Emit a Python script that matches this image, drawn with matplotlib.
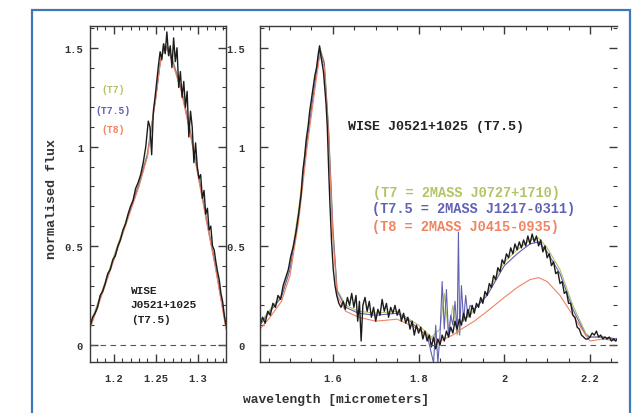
import matplotlib
matplotlib.use("Agg")
import matplotlib.pyplot as plt
from matplotlib.patches import Rectangle
from matplotlib.ticker import FixedLocator, FixedFormatter, MultipleLocator

plt.rcParams["font.family"] = ["Liberation Mono", "DejaVu Sans Mono"]
plt.rcParams["font.weight"] = "bold"

# J band (left panel): WISE J0521+1025
j_wave = [1.172, 1.175, 1.178, 1.181, 1.184, 1.187, 1.190, 1.193, 1.196, 1.199,
          1.202, 1.205, 1.208, 1.211, 1.214, 1.217, 1.220, 1.223, 1.226, 1.229,
          1.232, 1.235, 1.238, 1.241, 1.243, 1.245, 1.247, 1.249, 1.251, 1.253,
          1.255, 1.257, 1.259, 1.261, 1.263, 1.265, 1.267, 1.269, 1.271, 1.273,
          1.275, 1.277, 1.279, 1.281, 1.283, 1.285, 1.287, 1.289, 1.291, 1.293,
          1.295, 1.297, 1.299, 1.301, 1.303, 1.305, 1.307, 1.309, 1.311, 1.313,
          1.315, 1.317, 1.319, 1.321, 1.323, 1.325, 1.327, 1.329, 1.331, 1.333]
j_flux = [0.09, 0.14, 0.16, 0.19, 0.25, 0.27, 0.31, 0.36, 0.38, 0.43,
          0.45, 0.50, 0.53, 0.58, 0.61, 0.66, 0.70, 0.73, 0.79, 0.82,
          0.86, 0.92, 1.00, 1.13, 1.10, 0.96, 1.18, 1.25, 1.33, 1.41,
          1.48, 1.44, 1.52, 1.47, 1.58, 1.46, 1.51, 1.40, 1.55, 1.43,
          1.50, 1.30, 1.38, 1.25, 1.33, 1.20, 1.28, 1.05, 1.18, 1.10,
          0.92, 1.02, 0.90, 0.84, 0.86, 0.74, 0.78, 0.66, 0.69, 0.58,
          0.60, 0.50, 0.48, 0.42, 0.37, 0.33, 0.26, 0.22, 0.15, 0.10]

j_tpl_wave = [1.172, 1.19, 1.21, 1.23, 1.24, 1.25, 1.255, 1.26, 1.265, 1.27,
              1.28, 1.29, 1.30, 1.31, 1.32, 1.333]
j_t7 = [0.10, 0.32, 0.57, 0.82, 0.97, 1.26, 1.43, 1.52, 1.50, 1.44,
        1.30, 1.10, 0.87, 0.64, 0.42, 0.10]
j_t75 = [0.09, 0.31, 0.56, 0.81, 0.96, 1.25, 1.42, 1.51, 1.49, 1.43,
         1.29, 1.09, 0.86, 0.63, 0.41, 0.09]
j_t8 = [0.08, 0.30, 0.55, 0.80, 0.95, 1.25, 1.42, 1.50, 1.48, 1.42,
        1.28, 1.08, 0.85, 0.62, 0.40, 0.08]

# H + K bands (right panel): WISE J0521+1025
hk_wave = [1.430, 1.436, 1.442, 1.448, 1.454, 1.460, 1.466, 1.472, 1.478, 1.484,
           1.490, 1.496, 1.502, 1.508, 1.514, 1.520, 1.526, 1.530, 1.534, 1.538,
           1.542, 1.546, 1.550, 1.554, 1.558, 1.562, 1.566, 1.569, 1.572, 1.575,
           1.578, 1.581, 1.584, 1.587, 1.590, 1.593, 1.597, 1.601, 1.605, 1.609,
           1.614, 1.619, 1.624, 1.629, 1.634, 1.639, 1.644, 1.649, 1.654, 1.658,
           1.662, 1.666, 1.670, 1.675, 1.680, 1.685, 1.690, 1.695, 1.700, 1.705,
           1.710, 1.715, 1.720, 1.725, 1.730, 1.735, 1.740, 1.745, 1.750, 1.755,
           1.760, 1.765, 1.770, 1.775, 1.780, 1.785, 1.790, 1.795, 1.800, 1.805,
           1.810, 1.815, 1.820, 1.825, 1.830, 1.835, 1.840, 1.845, 1.850, 1.855,
           1.860, 1.865, 1.870, 1.875, 1.880, 1.885, 1.890, 1.895, 1.900, 1.905,
           1.910, 1.915, 1.920, 1.925, 1.930, 1.935, 1.940, 1.945, 1.950, 1.955,
           1.960, 1.965, 1.970, 1.975, 1.980, 1.985, 1.990, 1.995, 2.000, 2.005,
           2.010, 2.015, 2.020, 2.025, 2.030, 2.035, 2.040, 2.045, 2.050, 2.055,
           2.060, 2.065, 2.070, 2.075, 2.080, 2.085, 2.090, 2.095, 2.100, 2.105,
           2.110, 2.115, 2.120, 2.125, 2.130, 2.135, 2.140, 2.145, 2.150, 2.155,
           2.160, 2.165, 2.170, 2.175, 2.180, 2.185, 2.190, 2.195, 2.200, 2.205,
           2.210, 2.215, 2.220, 2.225, 2.230, 2.235, 2.240, 2.245, 2.250, 2.255,
           2.260, 2.263]
hk_flux = [0.10, 0.14, 0.11, 0.17, 0.15, 0.21, 0.19, 0.25, 0.23, 0.30,
           0.34, 0.38, 0.45, 0.50, 0.57, 0.66, 0.76, 0.88, 0.95, 1.04,
           1.10, 1.18, 1.24, 1.30, 1.36, 1.40, 1.47, 1.51, 1.46, 1.42,
           1.38, 1.30, 1.22, 1.10, 0.90, 0.72, 0.52, 0.38, 0.30, 0.25,
           0.21, 0.19, 0.22, 0.18, 0.24, 0.20, 0.26, 0.19, 0.25, 0.12,
           0.22, 0.02, 0.20, 0.24, 0.17, 0.22, 0.14, 0.19, 0.12, 0.18,
           0.15, 0.23, 0.17, 0.21, 0.14, 0.19, 0.16, 0.20, 0.15, 0.18,
           0.12, 0.16, 0.11, 0.14, 0.08, 0.12, 0.05, 0.10, 0.06, 0.09,
           0.03, 0.07, 0.02, 0.05, -0.01, 0.04, -0.02, 0.03, 0.00, 0.05,
           0.02, 0.07, 0.04, 0.09, 0.06, 0.12, 0.08, 0.13, 0.10, 0.16,
           0.12, 0.18, 0.14, 0.20, 0.16, 0.21, 0.19, 0.24, 0.21, 0.27,
           0.25, 0.31, 0.29, 0.35, 0.33, 0.39, 0.37, 0.43, 0.41, 0.46,
           0.44, 0.49, 0.46, 0.51, 0.48, 0.52, 0.49, 0.53, 0.50, 0.55,
           0.51, 0.56, 0.52, 0.55, 0.50, 0.53, 0.47, 0.50, 0.44, 0.46,
           0.40, 0.42, 0.36, 0.37, 0.31, 0.32, 0.26, 0.27, 0.21, 0.21,
           0.15, 0.14, 0.09, 0.08, 0.05, 0.04, 0.03, 0.03, 0.04, 0.06,
           0.05, 0.07, 0.04, 0.05, 0.03, 0.04, 0.03, 0.04, 0.02, 0.03,
           0.02, 0.03]

# comparison templates
t7_wave = [1.43, 1.45, 1.48, 1.50, 1.52, 1.54, 1.56, 1.57, 1.58, 1.59,
           1.60, 1.61, 1.63, 1.66, 1.70, 1.75, 1.80, 1.83, 1.85, 1.86,
           1.87, 1.88, 1.89, 1.90, 1.92, 1.96, 2.00, 2.03, 2.06, 2.08,
           2.10, 2.13, 2.16, 2.19, 2.20, 2.23, 2.263]
t7_flux = [0.11, 0.17, 0.25, 0.40, 0.68, 1.06, 1.38, 1.50, 1.43, 1.10,
           0.60, 0.28, 0.20, 0.17, 0.16, 0.17, 0.10, 0.04, 0.08, 0.26,
           0.06, 0.20, 0.05, 0.12, 0.15, 0.26, 0.42, 0.48, 0.53, 0.54,
           0.49, 0.38, 0.20, 0.06, 0.04, 0.04, 0.03]

t75_wave = [1.43, 1.45, 1.48, 1.50, 1.52, 1.54, 1.56, 1.57, 1.58, 1.59,
            1.60, 1.61, 1.63, 1.66, 1.70, 1.75, 1.78, 1.80, 1.82, 1.835,
            1.84, 1.845, 1.85, 1.855, 1.86, 1.865, 1.87, 1.875, 1.88, 1.885,
            1.89, 1.893, 1.896, 1.90, 1.905, 1.91, 1.915, 1.92, 1.93, 1.96,
            2.00, 2.03, 2.06, 2.08, 2.10, 2.13, 2.16, 2.19, 2.20, 2.23, 2.263]
t75_flux = [0.10, 0.16, 0.24, 0.38, 0.65, 1.03, 1.35, 1.49, 1.42, 1.08,
            0.58, 0.27, 0.19, 0.16, 0.15, 0.16, 0.12, 0.08, 0.05, -0.09,
            0.10, -0.09, 0.05, 0.32, 0.08, 0.28, 0.04, 0.15, 0.10, 0.22,
            0.06, 0.57, 0.05, 0.30, 0.12, 0.25, 0.14, 0.20, 0.18, 0.25,
            0.40, 0.46, 0.51, 0.52, 0.47, 0.36, 0.18, 0.05, 0.04, 0.04, 0.03]

t8_wave = [1.43, 1.45, 1.48, 1.50, 1.52, 1.54, 1.56, 1.57, 1.58, 1.59,
           1.60, 1.61, 1.63, 1.66, 1.70, 1.75, 1.80, 1.83, 1.85, 1.88,
           1.90, 1.93, 1.96, 2.00, 2.03, 2.06, 2.08, 2.10, 2.13, 2.16,
           2.19, 2.20, 2.23, 2.263]
t8_flux = [0.08, 0.13, 0.22, 0.35, 0.62, 1.00, 1.32, 1.47, 1.40, 1.05,
           0.55, 0.25, 0.17, 0.14, 0.12, 0.13, 0.08, 0.03, 0.02, 0.05,
           0.08, 0.12, 0.17, 0.24, 0.29, 0.33, 0.34, 0.32, 0.25, 0.15,
           0.05, 0.02, 0.03, 0.02]

y_ticks = [0, 0.5, 1, 1.5]
y_ticklabels = ["0", "0.5", "1", "1.5"]
j_ticks = [1.2, 1.25, 1.3]
j_ticklabels = ["1.2", "1.25", "1.3"]
hk_ticks = [1.6, 1.8, 2.0, 2.2]
hk_ticklabels = ["1.6", "1.8", "2", "2.2"]

C_T7 = "#b2c464"
C_T75 = "#6262b2"
C_T8 = "#f08462"
C_OBJ = "#1c1c1c"
C_AX = "#3a3a3a"

W, H = 644, 414
fig = plt.figure(figsize=(W / 100, H / 100), dpi=100)


def px_axes(x0, y0, x1, y1):
    return fig.add_axes([x0 / W, 1 - y1 / H, (x1 - x0) / W, (y1 - y0) / H])


axL = px_axes(90, 27, 226, 363)
axR = px_axes(260, 27, 617, 363)

# left panel
axL.plot(j_tpl_wave, j_t7, color=C_T7, lw=0.8)
axL.plot(j_tpl_wave, j_t75, color=C_T75, lw=0.8)
axL.plot(j_tpl_wave, j_t8, color=C_T8, lw=0.8)
axL.plot(j_wave, j_flux, color=C_OBJ, lw=1.0)
axL.set_xlim(1.172, 1.333)

# right panel
axR.plot(t7_wave, t7_flux, color=C_T7, lw=0.8)
axR.plot(t75_wave, t75_flux, color=C_T75, lw=0.8)
axR.plot(t8_wave, t8_flux, color=C_T8, lw=0.8)
axR.plot(hk_wave, hk_flux, color=C_OBJ, lw=1.0)
axR.set_xlim(1.43, 2.263)
axR.spines["right"].set_visible(False)

for ax, xt, xl, xminor in [(axL, j_ticks, j_ticklabels, 0.01),
                           (axR, hk_ticks, hk_ticklabels, 0.05)]:
    ax.set_ylim(-0.086, 1.61)
    ax.axhline(0, color="#555555", lw=0.8, ls=(0, (5, 4)))
    ax.xaxis.set_major_locator(FixedLocator(xt))
    ax.xaxis.set_major_formatter(FixedFormatter(xl))
    ax.xaxis.set_minor_locator(MultipleLocator(xminor))
    ax.yaxis.set_major_locator(FixedLocator(y_ticks))
    ax.yaxis.set_major_formatter(FixedFormatter(y_ticklabels))
    ax.yaxis.set_minor_locator(MultipleLocator(0.1))
    ax.tick_params(which="both", direction="in", top=True, right=True,
                   color=C_AX, labelcolor="#333333", labelsize=7.5)
    ax.tick_params(which="major", length=6, width=1.0)
    ax.tick_params(which="minor", length=3, width=0.8)
    ax.tick_params(axis="x", pad=8)
    for s in ax.spines.values():
        s.set_color(C_AX)
        s.set_linewidth(1.0)

axL.tick_params(axis="y", pad=5)
axR.tick_params(axis="y", pad=11)

# labels on the left panel
axL.text(0.169, 0.8125, "(T7)", color=C_T7, fontsize=7, ha="center", va="center",
         transform=axL.transAxes)
axL.text(0.169, 0.751, "(T7.5)", color=C_T75, fontsize=7, ha="center", va="center",
         transform=axL.transAxes)
axL.text(0.169, 0.693, "(T8)", color=C_T8, fontsize=7, ha="center", va="center",
         transform=axL.transAxes)
axL.text(0.30, 0.214, "WISE", color="#222222", fontsize=8, va="center",
         transform=axL.transAxes)
axL.text(0.30, 0.174, "J0521+1025", color="#222222", fontsize=8, va="center",
         transform=axL.transAxes)
axL.text(0.30, 0.128, "(T7.5)", color="#222222", fontsize=8, va="center",
         transform=axL.transAxes)

# labels on the right panel
axR.text(0.2465, 0.702, "WISE J0521+1025 (T7.5)", color="#222222", fontsize=9.6,
         va="center", transform=axR.transAxes)
axR.text(0.3165, 0.506, "(T7 = 2MASS J0727+1710)", color=C_T7, fontsize=9.8,
         va="center", transform=axR.transAxes)
axR.text(0.3137, 0.458, "(T7.5 = 2MASS J1217-0311)", color=C_T75, fontsize=9.8,
         va="center", transform=axR.transAxes)
axR.text(0.3137, 0.405, "(T8 = 2MASS J0415-0935)", color=C_T8, fontsize=9.8,
         va="center", transform=axR.transAxes)

fig.text(336 / W, 1 - 400 / H, "wavelength [micrometers]", fontsize=9.4,
         color="#333333", ha="center", va="center")
fig.text(52 / W, 1 - 199 / H, "normalised flux", fontsize=9.6, color="#333333",
         ha="center", va="center", rotation=90)

# blue frame around the figure
fig.add_artist(Rectangle((32 / W, -0.02), (630 - 32) / W, 1.02 - 11 / H,
                         transform=fig.transFigure, fill=False,
                         edgecolor="#3d78b8", lw=1.6))

fig.savefig("out.png", dpi=100)
